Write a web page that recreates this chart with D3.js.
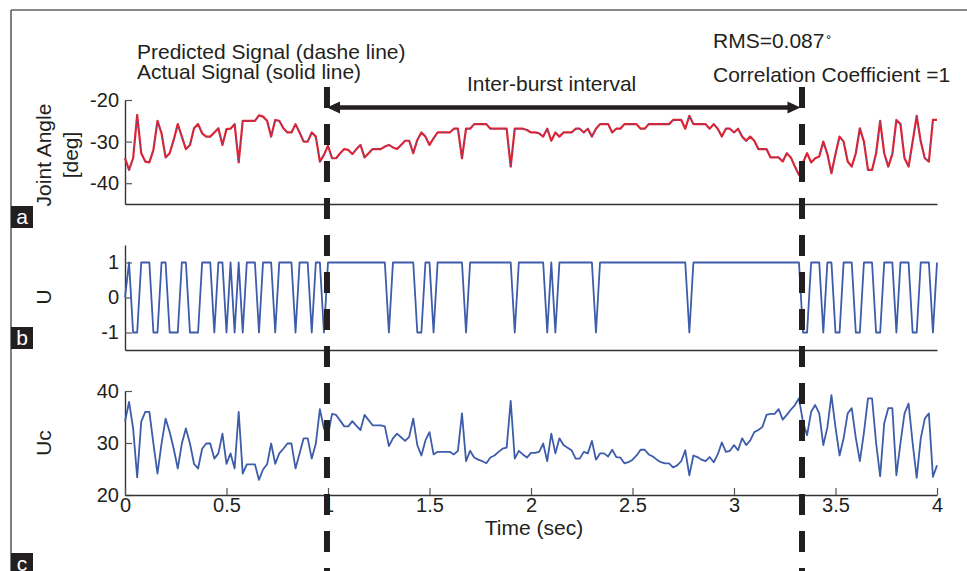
<!DOCTYPE html>
<html>
<head>
<meta charset="utf-8">
<script src="https://cdn.jsdelivr.net/npm/d3@7"></script>
<style>
  html, body { margin: 0; padding: 0; background: #fff; }
  svg { display: block; }
  text { font-family: "Liberation Sans", Arial, Helvetica, sans-serif; fill: #231f20; }
</style>
</head>
<body>
<svg id="fig" width="967" height="571"></svg>
<script>
// ---- data (sampled every 0.02 s, 0 .. 4 s) ----
const sampleStep = 0.02;

// joint angle [deg]; the predicted trace overlays the actual one (r = 1)
const jointAngle = [
  -34.0, -36.8, -34.0, -23.6, -32.8, -34.8, -35.0, -32.0, -25.0, -28.0,
  -33.8, -32.8, -29.6, -25.8, -28.8, -31.8, -30.8, -26.8, -25.8, -28.0,
  -28.8, -28.8, -27.8, -26.8, -30.8, -27.0, -26.9, -25.8, -35.0, -25.0,
  -25.0, -25.0, -25.0, -23.7, -24.0, -25.0, -28.8, -24.8, -25.0, -26.8,
  -27.8, -27.8, -25.8, -27.8, -30.0, -30.0, -27.8, -28.8, -34.8, -33.2,
  -31.0, -34.0, -34.0, -32.8, -31.8, -32.0, -33.0, -31.8, -30.8, -33.8,
  -32.8, -31.8, -31.8, -31.8, -31.2, -30.8, -31.4, -31.8, -30.8, -29.8,
  -29.8, -32.8, -29.6, -27.8, -28.8, -30.8, -29.2, -27.8, -27.8, -27.8,
  -27.8, -26.9, -26.9, -34.0, -26.9, -26.9, -25.8, -25.8, -25.8, -25.8,
  -26.9, -26.9, -26.9, -26.9, -26.9, -36.0, -26.9, -26.9, -26.9, -27.2,
  -27.8, -27.8, -28.0, -28.8, -26.9, -29.8, -27.8, -28.8, -27.8, -27.8,
  -27.8, -26.9, -26.9, -27.8, -26.9, -28.8, -26.9, -25.8, -25.8, -25.8,
  -27.8, -26.9, -26.9, -25.8, -25.8, -25.8, -25.8, -26.9, -26.9, -25.8,
  -25.8, -25.8, -25.8, -25.8, -25.8, -24.8, -24.8, -24.8, -26.9, -23.8,
  -25.8, -25.8, -25.8, -25.8, -26.9, -25.8, -26.9, -28.8, -26.9, -26.9,
  -27.8, -26.9, -28.8, -29.8, -28.8, -29.8, -31.8, -31.8, -31.8, -33.8,
  -33.8, -33.8, -34.8, -32.8, -33.8, -36.0, -38.0, -35.0, -32.8, -35.0,
  -34.0, -33.6, -30.0, -33.0, -37.6, -33.0, -28.8, -30.0, -34.8, -36.0,
  -32.8, -26.8, -30.0, -36.8, -36.8, -32.8, -25.0, -32.8, -36.0, -33.0,
  -24.8, -25.8, -34.0, -36.0, -30.0, -23.8, -30.0, -34.0, -34.8, -24.8,
  -24.8
];

// switching control signal U
const controlU = [
   0,  1, -1, -1,  1,  1,  1, -1, -1,  1,
   1, -1, -1, -1,  1,  1, -1, -1, -1,  1,
   1,  1, -1,  1,  1, -1,  1, -1,  1, -1,
   1,  1,  1, -1,  1,  1,  1, -1,  1,  1,
   1,  1, -1,  1,  1,  1, -1,  1,  1, -1,
   1,  1,  1,  1,  1,  1,  1,  1,  1,  1,
   1,  1,  1,  1,  1, -1,  1,  1,  1,  1,
   1,  1, -1, -1,  1,  1, -1,  1,  1,  1,
   1,  1,  1,  1, -1,  1,  1,  1,  1,  1,
   1,  1,  1,  1,  1,  1, -1,  1,  1,  1,
   1,  1,  1,  1, -1,  1, -1,  1,  1,  1,
   1,  1,  1,  1,  1,  1, -1,  1,  1,  1,
   1,  1,  1,  1,  1,  1,  1,  1,  1,  1,
   1,  1,  1,  1,  1,  1,  1,  1,  1, -1,
   1,  1,  1,  1,  1,  1,  1,  1,  1,  1,
   1,  1,  1,  1,  1,  1,  1,  1,  1,  1,
   1,  1,  1,  1,  1,  1,  1, -1, -1,  1,
   1,  1, -1,  1,  1, -1, -1,  1,  1,  1,
  -1, -1,  1,  1,  1, -1, -1,  1,  1,  1,
  -1,  1,  1,  1, -1, -1,  1,  1,  1, -1,
   1
];

// continuous control signal Uc
const controlUc = [
  34.1, 37.9, 32.8, 23.4, 34.1, 36.0, 36.0, 29.9, 24.1, 29.9,
  34.7, 32.1, 28.9, 25.1, 29.9, 32.8, 29.9, 26.0, 25.1, 28.9,
  29.9, 29.9, 27.0, 28.0, 31.8, 26.0, 28.0, 25.1, 36.0, 24.1,
  25.9, 25.9, 25.9, 22.9, 24.9, 25.9, 29.9, 26.0, 28.0, 28.9,
  29.9, 29.9, 25.1, 28.0, 30.9, 30.9, 27.0, 29.9, 36.5, 32.8,
  31.5, 35.6, 35.4, 34.3, 33.2, 33.2, 34.2, 33.3, 32.5, 35.4,
  34.4, 33.4, 33.4, 33.4, 33.2, 29.4, 30.9, 31.8, 31.1, 30.4,
  31.2, 34.7, 29.6, 27.6, 30.5, 32.1, 27.8, 28.3, 28.3, 28.3,
  28.3, 27.8, 28.5, 35.7, 26.5, 28.5, 27.2, 26.8, 26.5, 26.1,
  27.2, 27.6, 28.3, 28.9, 29.1, 38.1, 27.0, 28.5, 27.8, 27.2,
  28.1, 28.1, 28.3, 29.9, 26.5, 31.8, 28.0, 30.9, 29.6, 29.1,
  28.6, 27.0, 27.0, 28.3, 28.0, 30.4, 26.8, 28.0, 28.0, 27.4,
  28.7, 27.3, 27.2, 26.1, 26.3, 26.8, 27.6, 28.7, 28.7, 27.8,
  27.4, 26.8, 26.3, 26.1, 26.1, 25.3, 25.7, 26.5, 28.6, 23.8,
  27.6, 27.3, 26.8, 26.5, 27.3, 26.3, 27.8, 30.1, 28.3, 28.5,
  29.6, 28.6, 30.9, 29.6, 30.5, 32.1, 32.5, 33.1, 35.4, 35.6,
  35.6, 36.5, 34.5, 35.4, 36.4, 37.3, 38.6, 34.0, 31.5, 36.0,
  37.3, 35.7, 29.6, 33.0, 39.2, 33.0, 27.6, 30.9, 35.7, 36.7,
  31.0, 26.5, 32.0, 38.6, 38.6, 30.0, 23.6, 33.8, 36.7, 36.7,
  23.8, 30.0, 35.7, 37.6, 30.0, 23.3, 30.9, 34.7, 35.7, 23.5,
  25.7
];

// axis ticks and labels
const timeTicks = [0, 0.5, 1, 1.5, 2, 2.5, 3, 3.5, 4];
const angleTicks = [-40, -30, -20];
const uTicks = [-1, 0, 1];
const ucTicks = [20, 30, 40];

// start and end of the inter-burst interval [s]
const burstEdges = [0.995, 3.335];

// ---- drawing ----
const svg = d3.select("#fig");
const ink = "#231f20";
const axisInk = "#333";
const red = "#e8202c";
const blue = "#3d5caa";

const x = d3.scaleLinear().domain([0, 4]).range([125, 937]);
const yA = d3.scaleLinear().domain([-45, -20]).range([204, 100]);
const yB = d3.scaleLinear().domain([-1.5, 1.5]).range([350, 245]);
const yC = d3.scaleLinear().domain([20, 40]).range([495, 391]);

const t = i => i * sampleStep;

// figure frame (top and left rule)
svg.append("line").attr("x1", 11).attr("x2", 967).attr("y1", 10).attr("y2", 10)
  .attr("stroke", "#8a8a8a").attr("stroke-width", 2);
svg.append("line").attr("x1", 11).attr("x2", 11).attr("y1", 10).attr("y2", 571)
  .attr("stroke", "#555").attr("stroke-width", 1.5);

function styleAxis(g) {
  g.selectAll("path.domain").attr("stroke", axisInk).attr("stroke-width", 1.4);
  g.selectAll(".tick line").attr("stroke", "#555").attr("stroke-width", 1.2);
  g.selectAll(".tick text").attr("font-size", 20).attr("fill", ink)
    .style("font-family", '"Liberation Sans", Arial, sans-serif');
}

function panel(yScale, ticks, yTop, yBottom) {
  const gy = svg.append("g").attr("transform", `translate(${x.range()[0]},0)`)
    .call(d3.axisLeft(yScale).tickValues(ticks).tickFormat(d => String(d))
      .tickSizeInner(-7).tickSizeOuter(0).tickPadding(6));
  styleAxis(gy);
  return gy;
}

// panel a: joint angle
panel(yA, angleTicks);
const gxA = svg.append("g").attr("transform", `translate(0,${yA.range()[0]})`)
  .call(d3.axisBottom(x).tickValues([]).tickSizeOuter(0));
styleAxis(gxA);

const lineA = d3.line().x((d, i) => x(t(i))).y(d => yA(d));
svg.append("path").datum(jointAngle).attr("d", lineA)
  .attr("fill", "none").attr("stroke", red).attr("stroke-width", 2.2)
  .attr("stroke-linejoin", "round");
svg.append("path").datum(jointAngle).attr("d", lineA)
  .attr("fill", "none").attr("stroke", blue).attr("stroke-width", 0.9)
  .attr("stroke-dasharray", "2,3");

// panel b: U
panel(yB, uTicks);
const gxB = svg.append("g").attr("transform", `translate(0,${yB.range()[0]})`)
  .call(d3.axisBottom(x).tickValues([]).tickSizeOuter(0));
styleAxis(gxB);
svg.append("path").datum(controlU)
  .attr("d", d3.line().x((d, i) => x(t(i))).y(d => yB(d)))
  .attr("fill", "none").attr("stroke", blue).attr("stroke-width", 1.8)
  .attr("stroke-linejoin", "round");

// panel c: Uc
panel(yC, ucTicks);
const gxC = svg.append("g").attr("transform", `translate(0,${yC.range()[0]})`)
  .call(d3.axisBottom(x).tickValues(timeTicks).tickFormat(d => String(d))
    .tickSizeInner(-7).tickSizeOuter(0).tickPadding(3));
styleAxis(gxC);
svg.append("path").datum(controlUc)
  .attr("d", d3.line().x((d, i) => x(t(i))).y(d => yC(d)))
  .attr("fill", "none").attr("stroke", blue).attr("stroke-width", 1.8)
  .attr("stroke-linejoin", "round");

// axis titles
const title = (txt, tx, ty, rot) => svg.append("text")
  .attr("transform", `translate(${tx},${ty})` + (rot ? " rotate(-90)" : ""))
  .attr("text-anchor", "middle").attr("font-size", 21).text(txt);
title("Joint Angle", 51, 155, true);
title("[deg]", 78, 155, true);
title("U", 51, 297, true);
title("Uc", 51, 443, true);
title("Time (sec)", 534, 535, false);

// inter-burst boundaries
burstEdges.forEach(e => {
  svg.append("line").attr("x1", x(e)).attr("x2", x(e)).attr("y1", 87).attr("y2", 575)
    .attr("stroke", ink).attr("stroke-width", 6).attr("stroke-dasharray", "21,16");
});

// double-headed arrow across the interval
const ay = 107.5, xa = x(burstEdges[0]), xb = x(burstEdges[1]) - 1.5;
svg.append("line").attr("x1", xa + 8).attr("x2", xb - 8).attr("y1", ay).attr("y2", ay)
  .attr("stroke", ink).attr("stroke-width", 4.5);
svg.append("path").attr("d", `M${xa},${ay} L${xa + 13},${ay - 6} L${xa + 13},${ay + 6} Z`).attr("fill", ink);
svg.append("path").attr("d", `M${xb},${ay} L${xb - 13},${ay - 6} L${xb - 13},${ay + 6} Z`).attr("fill", ink);

// annotations
const note = (txt, tx, ty) => svg.append("text").attr("x", tx).attr("y", ty)
  .attr("font-size", 21).text(txt);
note("Predicted Signal (dashe line)", 137, 59);
note("Actual Signal (solid line)", 137, 79);
note("Inter-burst interval", 467, 91);
const rms = note("RMS=0.087", 713, 48);
rms.append("tspan").attr("font-size", 15).attr("dx", 2).attr("dy", -1).text("˚");
note("Correlation Coefficient =1", 713, 82);

// panel letters
[["a", 206], ["b", 327], ["c", 553]].forEach(([ch, top]) => {
  svg.append("rect").attr("x", 11).attr("y", top).attr("width", 22).attr("height", 22).attr("fill", ink);
  svg.append("text").attr("x", 22).attr("y", top + 18).attr("text-anchor", "middle")
    .attr("font-size", 21).style("fill", "#fff").text(ch);
});
</script>
</body>
</html>
